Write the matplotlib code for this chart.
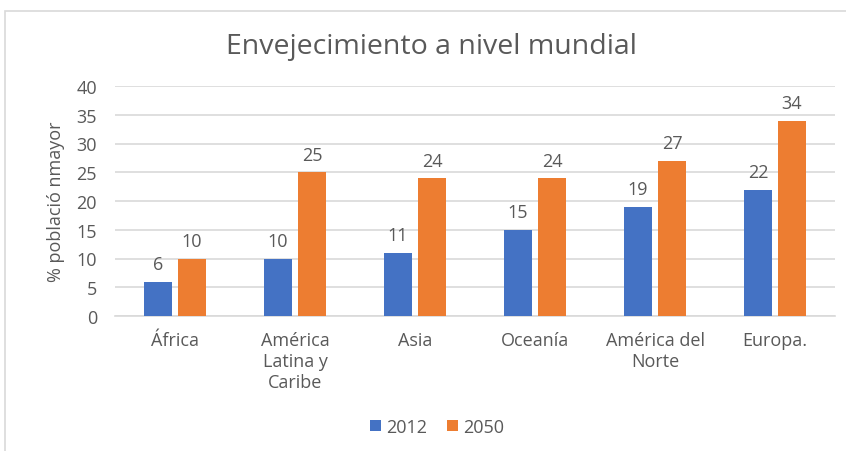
import numpy as np
import matplotlib.pyplot as plt
from matplotlib.patches import Rectangle

plt.rcParams['font.family'] = ['Open Sans', 'DejaVu Sans']

regiones = ["África", "América\nLatina y\nCaribe", "Asia", "Oceanía",
            "América del\nNorte", "Europa."]
valores_2012 = [6, 10, 11, 15, 19, 22]
valores_2050 = [10, 25, 24, 24, 27, 34]

AZUL = "#4472C4"
NARANJA = "#ED7D31"
GRIS = "#595959"
REJILLA = "#D9D9D9"

fig = plt.figure(figsize=(8.46, 4.52), dpi=100)
ax = fig.add_axes([115 / 846, 1 - 317 / 452, 720 / 846, 230 / 452])

# marco exterior del grafico
fig.patches.append(Rectangle((5 / 846, -0.1), 1.0, 1.1 - 12 / 452,
                             transform=fig.transFigure, fill=False,
                             edgecolor=REJILLA, lw=1.2))

x = np.arange(len(regiones))
ancho = 0.233
desp = 0.142
b1 = ax.bar(x - desp, valores_2012, ancho, color=AZUL, label="2012", zorder=3)
b2 = ax.bar(x + desp, valores_2050, ancho, color=NARANJA, label="2050", zorder=3)

for barras in (b1, b2):
    ax.bar_label(barras, padding=6, fontsize=13, color=GRIS)

ax.set_xlim(-0.5, len(regiones) - 0.5)
ax.set_ylim(0, 40)
ax.set_yticks(range(0, 41, 5))
ax.set_xticks(x)
ax.set_xticklabels(regiones, fontsize=13, color=GRIS, linespacing=1.22)
ax.tick_params(axis='y', labelsize=13, labelcolor=GRIS, length=0, pad=13)
ax.tick_params(axis='x', length=0, pad=11)
ax.grid(axis='y', color=REJILLA, lw=1.2, zorder=0)
for lado in ("top", "right", "left"):
    ax.spines[lado].set_visible(False)
ax.spines["bottom"].set_color(REJILLA)
ax.spines["bottom"].set_linewidth(1.2)

ax.set_ylabel("% població nmayor", fontsize=13, color=GRIS, labelpad=8)
fig.text(431 / 846, 1 - 47 / 452, "Envejecimiento a nivel mundial", ha='center',
         va='center', fontsize=20.5, color=GRIS)

fig.legend(loc='center', bbox_to_anchor=(437 / 846, 1 - 428 / 452), ncol=2,
           frameon=False, fontsize=13, handlelength=0.6, handleheight=0.6,
           handletextpad=0.3, columnspacing=1.1, labelcolor=GRIS)

fig.savefig("out.png", dpi=100)
